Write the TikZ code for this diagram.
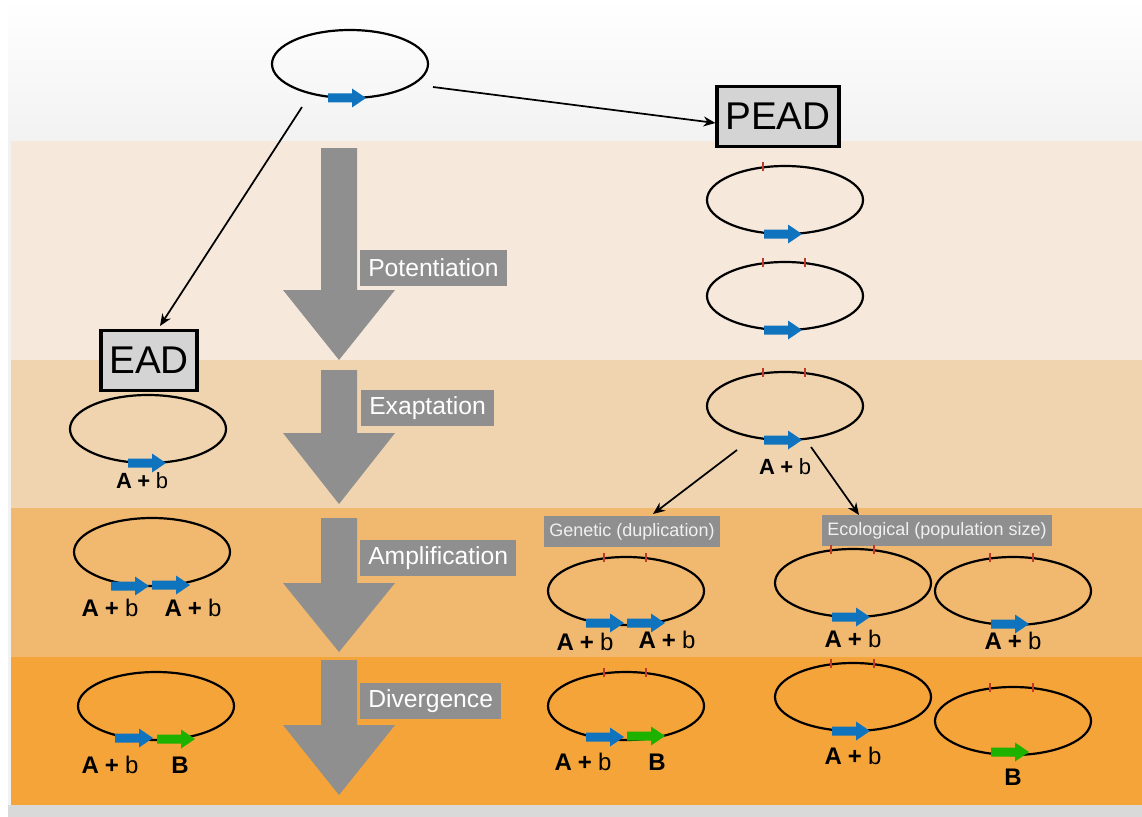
\documentclass[tikz,border=0pt]{standalone}
\usepackage{fontspec}
\setmainfont{Liberation Sans}
\usetikzlibrary{arrows.meta}
\definecolor{bandA}{HTML}{F6E9DB}
\definecolor{bandB}{HTML}{EFD4AF}
\definecolor{bandC}{HTML}{F1B870}
\definecolor{bandD}{HTML}{F5A43A}
\definecolor{bggray}{HTML}{F2F2F2}
\definecolor{stripgray}{HTML}{D9D9D9}
\definecolor{arrgray}{HTML}{8F8F8F}
\definecolor{boxgray}{HTML}{D4D4D4}
\definecolor{geneblue}{HTML}{0F73BE}
\definecolor{genegreen}{HTML}{1DB100}
\definecolor{tickred}{HTML}{C0392B}
\newcommand{\cellring}[2]{\draw[cellline] (#1,#2) ellipse [x radius=78, y radius=34];}
\newcommand{\rtick}[2]{\draw[rtick] (#1,#2-5) -- (#1,#2+4);}
\newcommand{\gene}[3]{\fill[#3] (#1-19,#2-4.5) -- (#1+5,#2-4.5) -- (#1+5,#2-9.5) -- (#1+19,#2) -- (#1+5,#2+9.5) -- (#1+5,#2+4.5) -- (#1-19,#2+4.5) -- cycle;}
\newcommand{\bigdown}[3]{\fill[arrgray] (321,#1) -- (357,#1) -- (357,#2) -- (395,#2) -- (339,#3) -- (283,#2) -- (321,#2) -- cycle;}
\newcommand{\ab}{\textbf{A\hspace{0.25em}+}\hspace{0.25em}b}
\begin{document}
\begin{tikzpicture}[x=0.75pt,y=-0.75pt,
  cellline/.style={line width=1.65pt, black},
  rtick/.style={line width=1.3pt, tickred},
  conn/.style={line width=1.3pt, -{Stealth[length=9pt,width=7.5pt]}},
  stagebox/.style={fill=arrgray, text=white, font=\fontsize{18.5}{21}\selectfont, inner xsep=6pt, minimum height=27pt, anchor=west},
  modebox/.style={fill=arrgray, text=white!94!black, font=\fontsize{13.5}{15}\selectfont, inner xsep=4pt, minimum height=23pt},
  typebox/.style={draw=black, line width=2.3pt, fill=boxgray, font=\fontsize{29}{32}\selectfont, minimum height=45pt, inner sep=0pt},
  allele/.style={font=\fontsize{18}{20}\selectfont, inner sep=0pt},
  allelesm/.style={font=\fontsize{16.5}{18}\selectfont, inner sep=0pt}]
\useasboundingbox (0,0) rectangle (1142,817);
% background
\fill[white] (0,0) rectangle (1142,817);
\shade[top color=white, bottom color=bggray] (8,0) rectangle (1142,141);
\fill[bggray] (8,141) rectangle (1142,805);
\fill[stripgray] (8,805) rectangle (1142,817);
\fill[bandA] (11,141) rectangle (1142,360);
\fill[bandB] (11,360) rectangle (1142,508);
\fill[bandC] (11,508) rectangle (1142,657);
\fill[bandD] (11,657) rectangle (1142,805);
% big stage arrows
\bigdown{148}{290}{360}
\bigdown{370}{433}{504}
\bigdown{518}{583}{652}
\bigdown{660}{725}{795}
\node[stagebox] (pot) at (360,268) {Potentiation};
\node[stagebox] (exa) at (361,408) {Exaptation};
\node[stagebox] (amp) at (360,558) {Amplification};
\node[stagebox] (div) at (360,701) {Divergence};
% top ancestral
\cellring{350}{64}
\gene{347}{98}{geneblue}
\node[typebox, minimum width=91.5pt] (PEAD) at (778,116.5) {PEAD};
\node[typebox, minimum width=72pt] (EAD) at (149,360.5) {EAD};
\coordinate (topL) at (302,107);
\coordinate (topR) at (433,87);
\coordinate (eadTip) at (160,326);
\coordinate (peadTip) at (PEAD.west |- 0,123);
\draw[conn] (topL) -- (eadTip);
\draw[conn] (topR) -- (peadTip);
% EAD column
\cellring{148}{429}
\gene{147}{463}{geneblue}
\node[allelesm] (ead1) at (142,481) {\ab};
\cellring{152}{552}
\gene{130}{586}{geneblue}
\gene{171}{585}{geneblue}
\node[allele] (ead2a) at (110,608) {\ab};
\node[allele] (ead2b) at (193,608) {\ab};
\cellring{156}{706}
\gene{134}{738}{geneblue}
\gene{176}{739}{genegreen}
\node[allele] (ead3a) at (110,765) {\ab};
\node[allele] (ead3b) at (180,765) {\textbf{B}};
% PEAD column
\cellring{785}{200}
\rtick{763}{167}
\gene{783}{234}{geneblue}
\cellring{785}{296}
\rtick{763}{263}
\rtick{805}{263}
\gene{783}{330}{geneblue}
\cellring{785}{406}
\rtick{763}{373}
\rtick{805}{373}
\gene{783}{440}{geneblue}
\node[allelesm] (pead1) at (785,467) {\ab};
\node[modebox] (gen) at (632,531.5) {Genetic (duplication)};
\node[modebox] (eco) at (937,530.5) {Ecological (population size)};
\coordinate (splitL) at (737,450);
\coordinate (splitR) at (811,447);
\coordinate (genTip) at (653,514);
\coordinate (ecoTip) at (859,515);
\draw[conn] (splitL) -- (genTip);
\draw[conn] (splitR) -- (ecoTip);
% genetic amplification
\cellring{626}{591}
\rtick{604}{558}
\rtick{646}{558}
\gene{605}{623}{geneblue}
\gene{646}{623}{geneblue}
\node[allele] (g1a) at (585,642) {\ab};
\node[allele] (g1b) at (667,640) {\ab};
% ecological amplification
\cellring{853}{583}
\rtick{831}{550}
\rtick{874}{550}
\gene{851}{617}{geneblue}
\node[allele] (e1) at (853,639) {\ab};
\cellring{1013}{591}
\rtick{990}{558}
\rtick{1033}{558}
\gene{1010}{624}{geneblue}
\node[allele] (e2) at (1013,641) {\ab};
% genetic divergence
\cellring{626}{706}
\rtick{604}{673}
\rtick{646}{673}
\gene{605}{737}{geneblue}
\gene{646}{736}{genegreen}
\node[allele] (g2a) at (583,762) {\ab};
\node[allele] (g2b) at (657,762) {\textbf{B}};
% ecological divergence
\cellring{853}{697}
\rtick{831}{664}
\rtick{874}{664}
\gene{851}{731}{geneblue}
\node[allele] (e3) at (853,756) {\ab};
\cellring{1013}{721}
\rtick{990}{688}
\rtick{1033}{688}
\gene{1010}{752}{genegreen}
\node[allele] (e4) at (1013,777) {\textbf{B}};
\end{tikzpicture}
\end{document}
